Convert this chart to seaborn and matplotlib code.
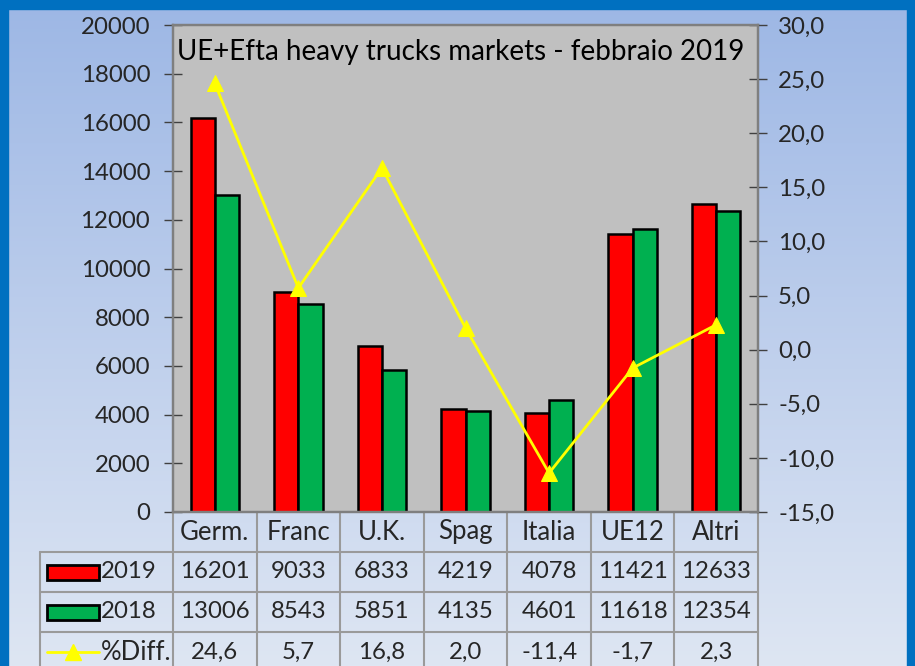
import numpy as np
import pandas as pd
import matplotlib
matplotlib.use("Agg")
import matplotlib.pyplot as plt
from matplotlib.patches import Rectangle
from matplotlib.lines import Line2D
import seaborn as sns

# data
cats = ['Germ.', 'Franc', 'U.K.', 'Spag', 'Italia', 'UE12', 'Altri']
v2019 = [16201, 9033, 6833, 4219, 4078, 11421, 12633]
v2018 = [13006, 8543, 5851, 4135, 4601, 11618, 12354]
diff = [24.6, 5.7, 16.8, 2.0, -11.4, -1.7, 2.3]
years = ['2019', '2018']
left_ticks = list(range(0, 20001, 2000))
right_ticks = list(range(-15, 31, 5))
title = "UE+Efta heavy trucks markets - febbraio 2019"

sns.set_style("white")
plt.rcParams['font.family'] = ['Lato', 'DejaVu Sans']
FS = 17.3     # numbers
FS_T = 18.5   # words
FS_TITLE = 20

RED = '#FF0000'
GREEN = '#00B050'
YELLOW = '#FFFF00'
DARKBLUE = '#0070C0'
GRID = '#9A9A9A'

W, H = 915, 666
fig = plt.figure(figsize=(W / 100, H / 100), dpi=100)

# background: gradient panel with dark blue frame
bg = fig.add_axes([0, 0, 1, 1], zorder=-10)
bg.set_axis_off()
top_c = np.array([157, 183, 229]) / 255
bot_c = np.array([222, 230, 243]) / 255
t = np.linspace(0, 1, 256)[:, None]
grad = top_c[None, None, :] * (1 - t[..., None]) + bot_c[None, None, :] * t[..., None]
grad = np.repeat(grad, 2, axis=1)
bg.imshow(grad, extent=[0, W, H, 0], aspect='auto')
bg.add_patch(Rectangle((0, 0), W, 9, color=DARKBLUE))
bg.add_patch(Rectangle((0, 0), 8, H, color=DARKBLUE))
bg.add_patch(Rectangle((W - 8, 0), 8, H, color=DARKBLUE))
bg.set_xlim(0, W)
bg.set_ylim(H, 0)

# main plot area (pixel geometry of the reference)
x0, x1, ytop, ybot = 173, 758, 25, 512
ax = fig.add_axes([x0 / W, (H - ybot) / H, (x1 - x0) / W, (ybot - ytop) / H])
ax.set_facecolor('#C0C0C0')

df = pd.DataFrame({
    'cat': cats * 2,
    'val': v2019 + v2018,
    'year': [years[0]] * len(cats) + [years[1]] * len(cats),
})
sns.barplot(data=df, x='cat', y='val', hue='year', hue_order=years,
            palette={'2019': RED, '2018': GREEN}, width=0.58,
            edgecolor='black', linewidth=1.8, saturation=1,
            legend=False, ax=ax)
ax.set_xlim(-0.5, len(cats) - 0.5)
ax.set_ylim(0, 20000)
ax.set_yticks(left_ticks)
ax.set_yticklabels([str(v) for v in left_ticks], fontsize=FS)
ax.set_xticks([])
ax.set_xlabel('')
ax.set_ylabel('')
ax.tick_params(axis='y', direction='inout', length=13, width=1, color='#404040', pad=10, left=True)
for s in ax.spines.values():
    s.set_color('#7F7F7F')
    s.set_linewidth(1.6)

ax.text(0.006, 0.945, title, transform=ax.transAxes, fontsize=FS_TITLE,
        ha='left', va='center', color='black')

# secondary axis: % difference
ax2 = ax.twinx()
sns.lineplot(x=list(range(len(cats))), y=diff, ax=ax2, color=YELLOW,
             linewidth=2, marker='^', markersize=12, markeredgecolor=YELLOW)
ax2.set_ylim(-15, 30)
ax2.set_yticks(right_ticks)
ax2.set_yticklabels([f"{v:.1f}".replace('.', ',') for v in right_ticks], fontsize=FS)
ax2.tick_params(axis='y', direction='inout', length=13, width=1, color='#404040', pad=8, right=True)
for s in ax2.spines.values():
    s.set_color('#7F7F7F')
    s.set_linewidth(1.6)

# data table under the plot
cw = (x1 - x0) / len(cats)
rh = 40 / (ybot - ytop)
xleft = -0.5 - (x0 - 40) / cw
xr = len(cats) - 0.5
tr = ax.get_xaxis_transform()
lk = dict(color=GRID, linewidth=1.5, transform=tr, clip_on=False)

# horizontal lines
ax.plot([-0.5, xr], [-rh, -rh], **lk)
ax.plot([xleft, -0.5], [-rh, -rh], **lk)
for r in (2, 3):
    ax.plot([xleft, xr], [-r * rh, -r * rh], **lk)
# vertical lines
for i in range(len(cats) + 1):
    ax.plot([i - 0.5, i - 0.5], [0, -4.2 * rh], **lk)
ax.plot([xleft, xleft], [-rh, -4.2 * rh], **lk)

rows = [v2019, v2018, [f"{v:.1f}".replace('.', ',') for v in diff]]
for i, c in enumerate(cats):
    ax.text(i, -0.5 * rh, c, transform=tr, ha='center', va='center', fontsize=FS_T, clip_on=False)
    for r, vals in enumerate(rows):
        ax.text(i, -(r + 1.5) * rh, str(vals[i]), transform=tr, ha='center',
                va='center', fontsize=FS, clip_on=False)

# row labels with legend keys (figure pixel coords)
def fx(px):
    return px / W


def fy(py):
    return (H - py) / H


for yc, col, lab in [(572, RED, years[0]), (612, GREEN, years[1])]:
    fig.patches.append(Rectangle((fx(47), fy(yc + 7.5)), 52 / W, 15 / H, transform=fig.transFigure,
                                 facecolor=col, edgecolor='black', linewidth=2, zorder=5))
    fig.text(fx(101), fy(yc), lab, ha='left', va='center', fontsize=FS)
fig.lines.append(Line2D([fx(47), fx(99)], [fy(652), fy(652)], transform=fig.transFigure,
                        color=YELLOW, linewidth=2))
fig.lines.append(Line2D([fx(73)], [fy(652)], transform=fig.transFigure, color=YELLOW,
                        marker='^', markersize=12, linestyle='none'))
fig.text(fx(101), fy(652), '%Diff.', ha='left', va='center', fontsize=FS_T)

fig.savefig('out.png', dpi=100)
